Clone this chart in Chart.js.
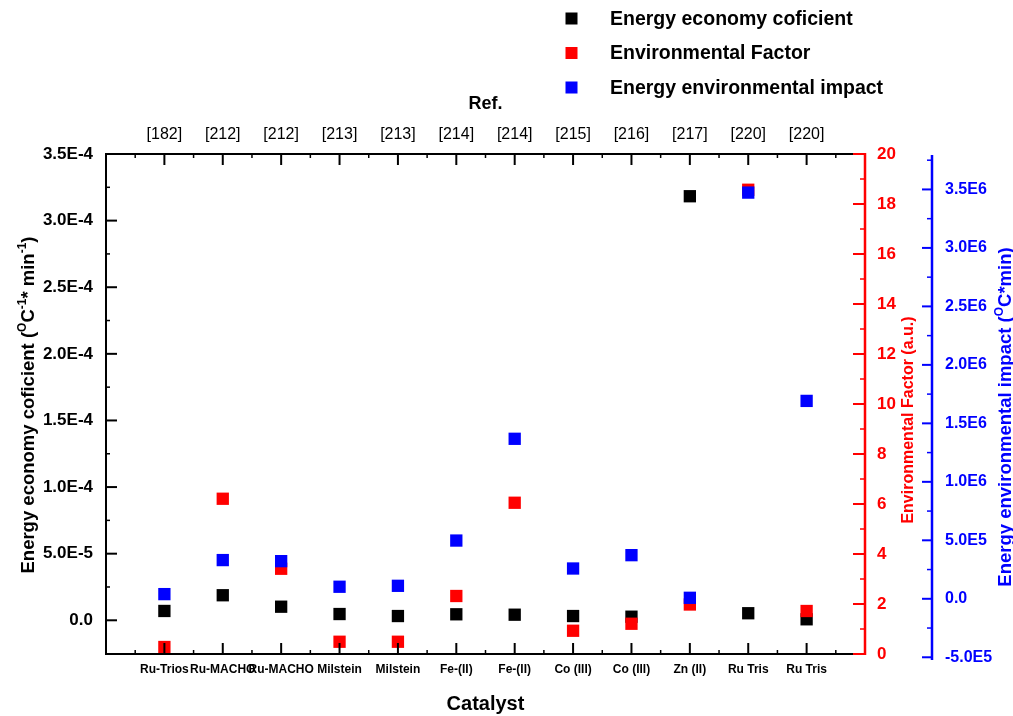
<!DOCTYPE html>
<html>
<head>
<meta charset="utf-8">
<title>Energy economy of catalysts</title>
<script src="https://cdn.jsdelivr.net/npm/chart.js@4.4.1/dist/chart.umd.min.js"></script>
<style>
    html, body { margin: 0; padding: 0; background: #fff; }
    #wrap { width: 1013px; height: 716px; position: relative; }
</style>
</head>
<body>
<div id="wrap"><canvas id="chart"></canvas></div>
<script>
// Categories (bottom axis) and references (top axis)
var catalysts = ['Ru-Trios', 'Ru-MACHO', 'Ru-MACHO', 'Milstein', 'Milstein', 'Fe-(II)', 'Fe-(II)', 'Co (III)', 'Co (III)', 'Zn (II)', 'Ru Tris', 'Ru Tris'];
var refs = ['[182]', '[212]', '[212]', '[213]', '[213]', '[214]', '[214]', '[215]', '[216]', '[217]', '[220]', '[220]'];

// Series values
var energyEconomy = [7.0e-6, 1.88e-5, 1.02e-5, 4.7e-6, 3.2e-6, 4.5e-6, 4.2e-6, 3.2e-6, 2.7e-6, 3.183e-4, 5.3e-6, 7.5e-7];
var envFactor = [0.28, 6.21, 3.41, 0.49, 0.49, 2.32, 6.05, 0.93, 1.21, 1.98, 18.57, 1.72];
var envImpact = [4.0e4, 3.31e5, 3.22e5, 1.03e5, 1.11e5, 4.98e5, 1.368e6, 2.59e5, 3.73e5, 8.5e3, 3.473e6, 1.692e6];

// Tick values of the three value axes
var leftTicks = [0, 5e-5, 1e-4, 1.5e-4, 2e-4, 2.5e-4, 3e-4, 3.5e-4];
var redTicks = [0, 2, 4, 6, 8, 10, 12, 14, 16, 18, 20];
var blueTicks = [-5e5, 0, 5e5, 1e6, 1.5e6, 2e6, 2.5e6, 3e6, 3.5e6];

var FONT = "'Liberation Sans', Arial, sans-serif";
var RED = '#ff0000';
var BLUE = '#0000ff';

function sci(v) {
    if (v === 0) return '0.0';
    return v.toExponential(1).toUpperCase().replace('E+', 'E');
}

function points(values) {
    return values.map(function(v, i) { return { x: i, y: v }; });
}

function line(ctx, x1, y1, x2, y2, color, w) {
    ctx.strokeStyle = color;
    ctx.lineWidth = w;
    ctx.beginPath();
    ctx.moveTo(x1, y1);
    ctx.lineTo(x2, y2);
    ctx.stroke();
}

// ticks on a vertical axis, major + minor at midpoints
function vTicks(ctx, scale, a, values, x, dir, color, major, minor) {
    var step = values[1] - values[0];
    values.forEach(function(v) {
        var y = scale.getPixelForValue(v);
        if (y >= a.top - 1 && y <= a.bottom + 6) line(ctx, x, y, x + dir * major, y, color, 2);
    });
    for (var k = -1; k < values.length; k++) {
        var m = values[0] + (k + 0.5) * step;
        var ym = scale.getPixelForValue(m);
        if (ym > a.top + 1 && ym < a.bottom - 1) line(ctx, x, ym, x + dir * minor, ym, color, 1.5);
    }
}

var axisFrame = {
    id: 'axisFrame',
    afterDatasetsDraw: function(chart) {
        var ctx = chart.ctx, a = chart.chartArea, s = chart.scales;
        ctx.save();
        line(ctx, a.left, a.top, a.right, a.top, '#000', 2);
        line(ctx, a.left, a.bottom, a.right, a.bottom, '#000', 2);
        line(ctx, a.left, a.top - 1, a.left, a.bottom + 1, '#000', 2);

        // category ticks, top and bottom
        for (var i = -1; i < catalysts.length; i++) {
            var xm = s.x.getPixelForValue(i + 0.5);
            line(ctx, xm, a.top, xm, a.top + 4, '#000', 1.5);
            line(ctx, xm, a.bottom, xm, a.bottom - 4, '#000', 1.5);
            if (i >= 0) {
                var x = s.x.getPixelForValue(i);
                line(ctx, x, a.top, x, a.top + 11, '#000', 2);
                line(ctx, x, a.bottom, x, a.bottom - 11, '#000', 2);
            }
        }

        vTicks(ctx, s.y, a, leftTicks, a.left, 1, '#000', 11, 4);

        line(ctx, a.right, a.top - 1, a.right, a.bottom + 1, RED, 2.5);
        vTicks(ctx, s.y1, a, redTicks, a.right, -1, RED, 12, 5);

        var bx = s.y2.left;
        line(ctx, bx, a.top + 1, bx, a.bottom + 6, BLUE, 2.5);
        vTicks(ctx, s.y2, a, blueTicks, bx, -1, BLUE, 10, 5);
        ctx.restore();
    }
};

// rotated axis titles with superscripts
function richTitle(ctx, parts, cx, cy, size, color) {
    var sub = Math.round(size * 0.65);
    var total = 0;
    parts.forEach(function(p) {
        ctx.font = 'bold ' + (p.sup ? sub : size) + 'px ' + FONT;
        p.w = ctx.measureText(p.t).width;
        total += p.w;
    });
    ctx.save();
    ctx.translate(cx, cy);
    ctx.rotate(-Math.PI / 2);
    ctx.fillStyle = color;
    ctx.textBaseline = 'alphabetic';
    ctx.textAlign = 'left';
    var x = -total / 2;
    parts.forEach(function(p) {
        ctx.font = 'bold ' + (p.sup ? sub : size) + 'px ' + FONT;
        ctx.fillText(p.t, x, p.sup ? -size * 0.45 : 0);
        x += p.w;
    });
    ctx.restore();
}

var axisTitles = {
    id: 'axisTitles',
    afterDraw: function(chart) {
        var ctx = chart.ctx, a = chart.chartArea, s = chart.scales;
        var mid = (a.top + a.bottom) / 2;
        richTitle(ctx, [
            { t: 'Energy economy coficient (' }, { t: 'O', sup: true }, { t: 'C' },
            { t: '-1', sup: true }, { t: '* min' }, { t: '-1', sup: true }, { t: ')' }
        ], 34, mid + 1, 18.5, '#000');
        richTitle(ctx, [{ t: 'Environmental Factor (a.u.)' }], s.y1.right - 19, mid + 16, 16, RED);
        richTitle(ctx, [
            { t: 'Energy environmental impact (' }, { t: 'O', sup: true }, { t: 'C*min)' }
        ], 1011, mid + 13, 18.5, BLUE);
    }
};

// vertical legend in the top right
var sideLegend = {
    id: 'sideLegend',
    afterDraw: function(chart) {
        var ctx = chart.ctx;
        var rows = [18.5, 53, 87.5];
        ctx.save();
        chart.data.datasets.forEach(function(ds, i) {
            ctx.fillStyle = ds.backgroundColor;
            ctx.fillRect(565.5, rows[i] - 6, 12, 12);
            ctx.fillStyle = '#000';
            ctx.font = 'bold 19.5px ' + FONT;
            ctx.textBaseline = 'middle';
            ctx.fillText(ds.label, 610, rows[i] + 1);
        });
        ctx.restore();
    }
};

function fixedWidth(w) { return function(scale) { scale.width = w; }; }
function fixedHeight(h) { return function(scale) { scale.height = h; }; }

var ctx = document.getElementById('chart').getContext('2d');
var chart = new Chart(ctx, {
    type: 'scatter',
    data: {
        datasets: [{
            label: 'Energy economy coficient',
            data: points(energyEconomy),
            yAxisID: 'y',
            backgroundColor: '#000000',
            borderColor: '#000000',
            order: 2
        }, {
            label: 'Environmental Factor',
            data: points(envFactor),
            yAxisID: 'y1',
            backgroundColor: RED,
            borderColor: RED,
            order: 1
        }, {
            label: 'Energy environmental impact',
            data: points(envImpact),
            yAxisID: 'y2',
            backgroundColor: BLUE,
            borderColor: BLUE,
            order: 0
        }]
    },
    options: {
        responsive: true,
        maintainAspectRatio: false,
        animation: false,
        layout: { padding: 0 },
        elements: {
            point: { pointStyle: 'rect', radius: 8.7, hoverRadius: 8.7, borderWidth: 0 }
        },
        plugins: {
            legend: { display: false },
            tooltip: { enabled: false }
        },
        scales: {
            x: {
                type: 'linear',
                position: 'bottom',
                min: -1,
                max: 12,
                grid: { display: false, drawTicks: false },
                border: { display: false },
                afterBuildTicks: function(scale) {
                    scale.ticks = catalysts.map(function(c, i) { return { value: i }; });
                },
                afterFit: fixedHeight(62),
                ticks: {
                    autoSkip: false,
                    maxRotation: 0,
                    padding: 8,
                    color: '#000',
                    font: { family: FONT, size: 12, weight: 'bold' },
                    callback: function(v) { return catalysts[v] || ''; }
                },
                title: {
                    display: true,
                    text: 'Catalyst',
                    color: '#000',
                    font: { family: FONT, size: 20, weight: 'bold' },
                    padding: { top: 0, bottom: 0 }
                }
            },
            x2: {
                type: 'linear',
                position: 'top',
                min: -1,
                max: 12,
                grid: { display: false, drawTicks: false },
                border: { display: false },
                afterBuildTicks: function(scale) {
                    scale.ticks = refs.map(function(r, i) { return { value: i }; });
                },
                afterFit: fixedHeight(154),
                ticks: {
                    autoSkip: false,
                    maxRotation: 0,
                    padding: 10,
                    color: '#000',
                    font: { family: FONT, size: 16 },
                    callback: function(v) { return refs[v] || ''; }
                },
                title: {
                    display: true,
                    text: 'Ref.',
                    color: '#000',
                    font: { family: FONT, size: 18, weight: 'bold' },
                    padding: { top: 93, bottom: 0 }
                }
            },
            y: {
                type: 'linear',
                position: 'left',
                min: -2.53e-5,
                max: 3.5e-4,
                grid: { display: false, drawTicks: false },
                border: { display: false },
                afterBuildTicks: function(scale) {
                    scale.ticks = leftTicks.map(function(v) { return { value: v }; });
                },
                afterFit: fixedWidth(106),
                ticks: {
                    padding: 13,
                    color: '#000',
                    font: { family: FONT, size: 17, weight: 'bold' },
                    callback: function(v) { return sci(v); }
                }
            },
            y1: {
                type: 'linear',
                position: 'right',
                weight: 0,
                min: 0,
                max: 20,
                grid: { display: false, drawTicks: false },
                border: { display: false },
                afterBuildTicks: function(scale) {
                    scale.ticks = redTicks.map(function(v) { return { value: v }; });
                },
                afterFit: fixedWidth(67),
                ticks: {
                    padding: 12,
                    color: RED,
                    font: { family: FONT, size: 17, weight: 'bold' }
                }
            },
            y2: {
                type: 'linear',
                position: 'right',
                weight: 1,
                min: -4.72e5,
                max: 3.803e6,
                grid: { display: false, drawTicks: false },
                border: { display: false },
                afterBuildTicks: function(scale) {
                    scale.ticks = blueTicks.map(function(v) { return { value: v }; });
                },
                afterFit: fixedWidth(81),
                ticks: {
                    padding: 13,
                    color: BLUE,
                    font: { family: FONT, size: 16, weight: 'bold' },
                    callback: function(v) { return sci(v); }
                }
            }
        }
    },
    plugins: [axisFrame, axisTitles, sideLegend]
});
</script>
</body>
</html>
